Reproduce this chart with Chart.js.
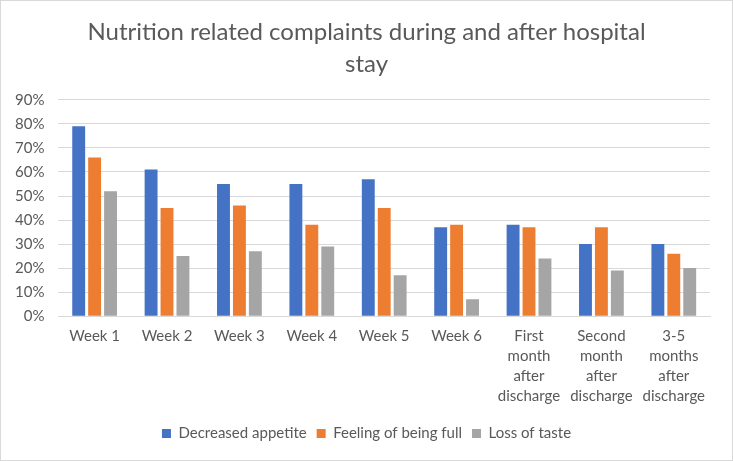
<!DOCTYPE html>
<html>
<head>
<meta charset="utf-8">
<script src="https://cdn.jsdelivr.net/npm/chart.js@4"></script>
<style>
  html, body { margin: 0; padding: 0; background: #fff; }
  #wrap { width: 731px; height: 459px; border: 1px solid #d9d9d9; }
</style>
</head>
<body>
<div id="wrap"><canvas id="complaintsChart" width="731" height="459"></canvas></div>
<script>
// Données
const periods = [
    'Week 1', 'Week 2', 'Week 3', 'Week 4', 'Week 5', 'Week 6',
    ['First', 'month', 'after', 'discharge'],
    ['Second', 'month', 'after', 'discharge'],
    ['3-5', 'months', 'after', 'discharge'],
];
const decreasedAppetite = [79, 61, 55, 55, 57, 37, 38, 30, 30];
const feelingFull = [66, 45, 46, 38, 45, 38, 37, 37, 26];
const lossOfTaste = [52, 25, 27, 29, 17, 7, 24, 19, 20];
const yTicks = [0, 10, 20, 30, 40, 50, 60, 70, 80, 90];

const textColor = '#595959';
const fontFamily = 'Lato, "Open Sans", sans-serif';

function initComplaintsChart() {
    const canvas = document.getElementById('complaintsChart');
    if (!canvas) return;
    new Chart(canvas, {
        type: 'bar',
        data: {
            labels: periods,
            datasets: [
                { label: 'Decreased appetite', data: decreasedAppetite, backgroundColor: '#4472C4' },
                { label: 'Feeling of being full', data: feelingFull, backgroundColor: '#ED7D31' },
                { label: 'Loss of taste', data: lossOfTaste, backgroundColor: '#A5A5A5' },
            ],
        },
        options: {
            responsive: false,
            animation: false,
            datasets: {
                bar: { categoryPercentage: 0.66, barPercentage: 0.81 }
            },
            layout: { padding: { left: 11, right: 11, top: 6, bottom: 9 } },
            plugins: {
                title: {
                    display: true,
                    text: ['Nutrition related complaints during and after hospital', 'stay'],
                    color: textColor,
                    font: { family: fontFamily, size: 24, weight: 'normal', lineHeight: 1.33 },
                    padding: { top: 9, bottom: 20 },
                },
                legend: {
                    position: 'bottom',
                    labels: {
                        color: textColor,
                        font: { family: fontFamily, size: 15 },
                        boxWidth: 9,
                        boxHeight: 9,
                        padding: 10,
                    },
                },
                tooltip: { enabled: false },
            },
            scales: {
                y: {
                    min: 0,
                    max: 90,
                    afterBuildTicks: (axis) => { axis.ticks = yTicks.map(v => ({ value: v })); },
                    afterFit: (scale) => { scale.width -= 11; },
                    grid: { color: '#d9d9d9', lineWidth: 1, drawTicks: false },
                    border: { display: false },
                    ticks: {
                        color: textColor,
                        padding: 14,
                        font: { family: fontFamily, size: 15 },
                        callback: (v) => v + '%',
                    },
                },
                // axe vide à droite, juste pour la marge
                yRight: {
                    position: 'right',
                    grid: { display: false, drawTicks: false },
                    border: { display: false },
                    ticks: { display: false },
                    afterFit: (scale) => { scale.width = 11; },
                },
                x: {
                    grid: { display: false, drawTicks: false },
                    border: { color: '#d9d9d9' },
                    ticks: {
                        color: textColor,
                        maxRotation: 0,
                        autoSkip: false,
                        padding: 10,
                        font: { family: fontFamily, size: 15, lineHeight: 1.33 },
                    },
                },
            },
        },
    });
}

document.addEventListener('DOMContentLoaded', initComplaintsChart);
</script>
</body>
</html>
